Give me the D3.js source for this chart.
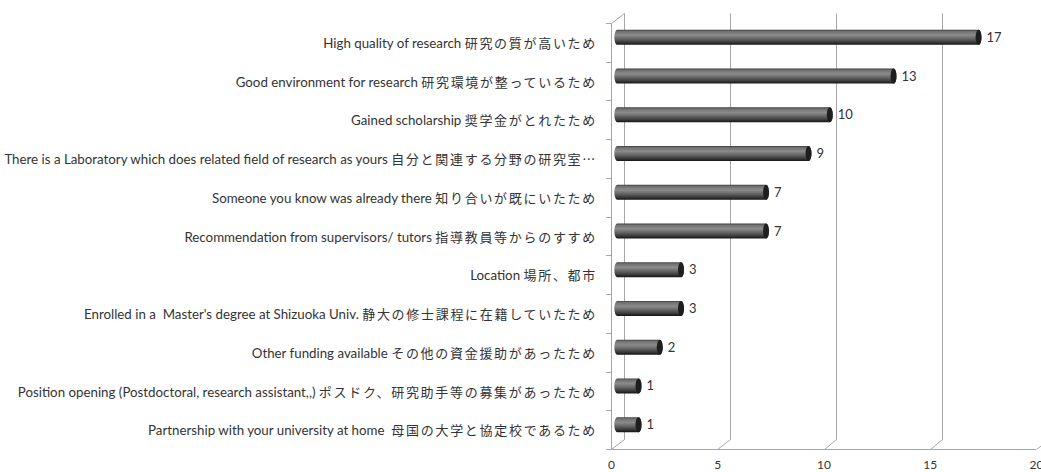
<!DOCTYPE html>
<html><head><meta charset="utf-8">
<script src="https://cdn.jsdelivr.net/npm/d3@7"></script>
<style>
html,body{margin:0;padding:0;background:#fff;}
svg{display:block;}
text{white-space:pre;}
</style></head>
<body>
<svg id="chart" width="1041" height="472"></svg>
<script>
const categories = [
  "High quality of research 研究の質が高いため",
  "Good environment for research 研究環境が整っているため",
  "Gained scholarship 奨学金がとれたため",
  "There is a Laboratory which does related field of research as yours 自分と関連する分野の研究室…",
  "Someone you know was already there 知り合いが既にいたため",
  "Recommendation from supervisors/ tutors 指導教員等からのすすめ",
  "Location 場所、都市",
  "Enrolled in a  Master's degree at Shizuoka Univ. 静大の修士課程に在籍していたため",
  "Other funding available その他の資金援助があったため",
  "Position opening (Postdoctoral, research assistant,,) ポスドク、研究助手等の募集があったため",
  "Partnership with your university at home  母国の大学と協定校であるため"
];
const values = [17, 13, 10, 9, 7, 7, 3, 3, 2, 1, 1];
const xTicks = [0, 5, 10, 15, 20];

const svg = d3.select("#chart");
const font = "Lato, 'Noto Sans CJK JP', sans-serif";
const cjkFont = "'Noto Sans CJK JP', sans-serif";
const x = d3.scaleLinear().domain([0, 20]).range([611, 1036]);
const y = d3.scaleBand().domain(categories).range([23, 449]);
const dxB = 12.5, dyB = -10;       // back plane offset
const dxM = 6.3, dyM = -5;         // mid-depth (bars)
const gridC = "#a6a6a6";

// gradient
const defs = svg.append("defs");
const g1 = defs.append("linearGradient").attr("id", "cyl").attr("x1", 0).attr("y1", 0).attr("x2", 0).attr("y2", 1);
[[0,"#3a3a3a"],[0.1,"#6f6f6f"],[0.35,"#8c8c8c"],[0.6,"#646464"],[0.82,"#3c3c3c"],[1,"#141414"]]
  .forEach(([o,c]) => g1.append("stop").attr("offset", o).attr("stop-color", c));

// back wall gridlines
const grid = svg.append("g").attr("stroke", gridC).attr("fill", "none").attr("stroke-width", 1);
xTicks.forEach(t => {
  const xf = Math.round(x(t)) + 0.5;
  const xb = Math.round(x(t) + dxB) + 0.5;
  grid.append("path").attr("d", `M${xf},449.5 L${xb},${449.5 + dyB} L${xb},${23.5 + dyB}`);
});
grid.append("line").attr("x1", x(0)).attr("x2", x(20)).attr("y1", 449.5).attr("y2", 449.5);
grid.append("path").attr("d", `M${Math.round(x(0))+0.5},449.5 L${Math.round(x(0))+0.5},23.5 L${Math.round(x(0)+dxB)+0.5},${23.5+dyB}`);
const bounds = categories.map(c => y(c)).concat([449]);
bounds.forEach(b => {
  grid.append("line").attr("x1", x(0) - 5).attr("x2", x(0)).attr("y1", Math.round(b) + 0.5).attr("y2", Math.round(b) + 0.5);
});

// bars
const bh = 15, cap = 3;
const bars = svg.append("g");
categories.forEach((c, i) => {
  const cy = y(c) + y.bandwidth() / 2 + dyM;
  const x0 = x(0) + dxM, x1 = x(values[i]) + dxM;
  const top = cy - bh / 2, bot = cy + bh / 2;
  bars.append("path")
    .attr("d", `M${x0},${top} L${x1},${top} A${cap},${bh/2} 0 0 1 ${x1},${bot} L${x0},${bot} A${cap},${bh/2} 0 0 1 ${x0},${top} Z`)
    .attr("fill", "url(#cyl)");
  bars.append("ellipse").attr("cx", x1).attr("cy", cy).attr("rx", cap).attr("ry", bh / 2)
    .attr("fill", "#1e1e1e");
  bars.append("text").attr("x", x1 + 8).attr("y", cy).attr("dy", "0.35em")
    .attr("font-family", font).attr("font-size", 13).attr("fill", "#333")
    .text(values[i]);
});

// category labels: Latin part + CJK part
const labels = svg.append("g");
categories.forEach(c => {
  const idx = c.search(/[\u3000-\u30ff\u4e00-\u9fff…]/);
  const lat = idx >= 0 ? c.slice(0, idx) : c;
  const cjk = idx >= 0 ? c.slice(idx) : "";
  const t = labels.append("text")
    .attr("x", 597).attr("y", y(c) + y.bandwidth() / 2).attr("dy", "0.35em")
    .attr("text-anchor", "end").attr("fill", "#333");
  t.append("tspan").attr("font-family", font).attr("font-size", 13.3).text(lat);
  t.append("tspan").attr("font-family", cjkFont).attr("font-size", 13).attr("letter-spacing", 1.7).text(cjk);
});

// x axis labels
const ax = svg.append("g").attr("transform", "translate(0,456)")
  .call(d3.axisBottom(x).tickValues(xTicks).tickSize(0).tickPadding(4));
ax.select(".domain").remove();
ax.selectAll("text").attr("font-family", font).attr("font-size", 12).attr("fill", "#333");
</script>
</body></html>
